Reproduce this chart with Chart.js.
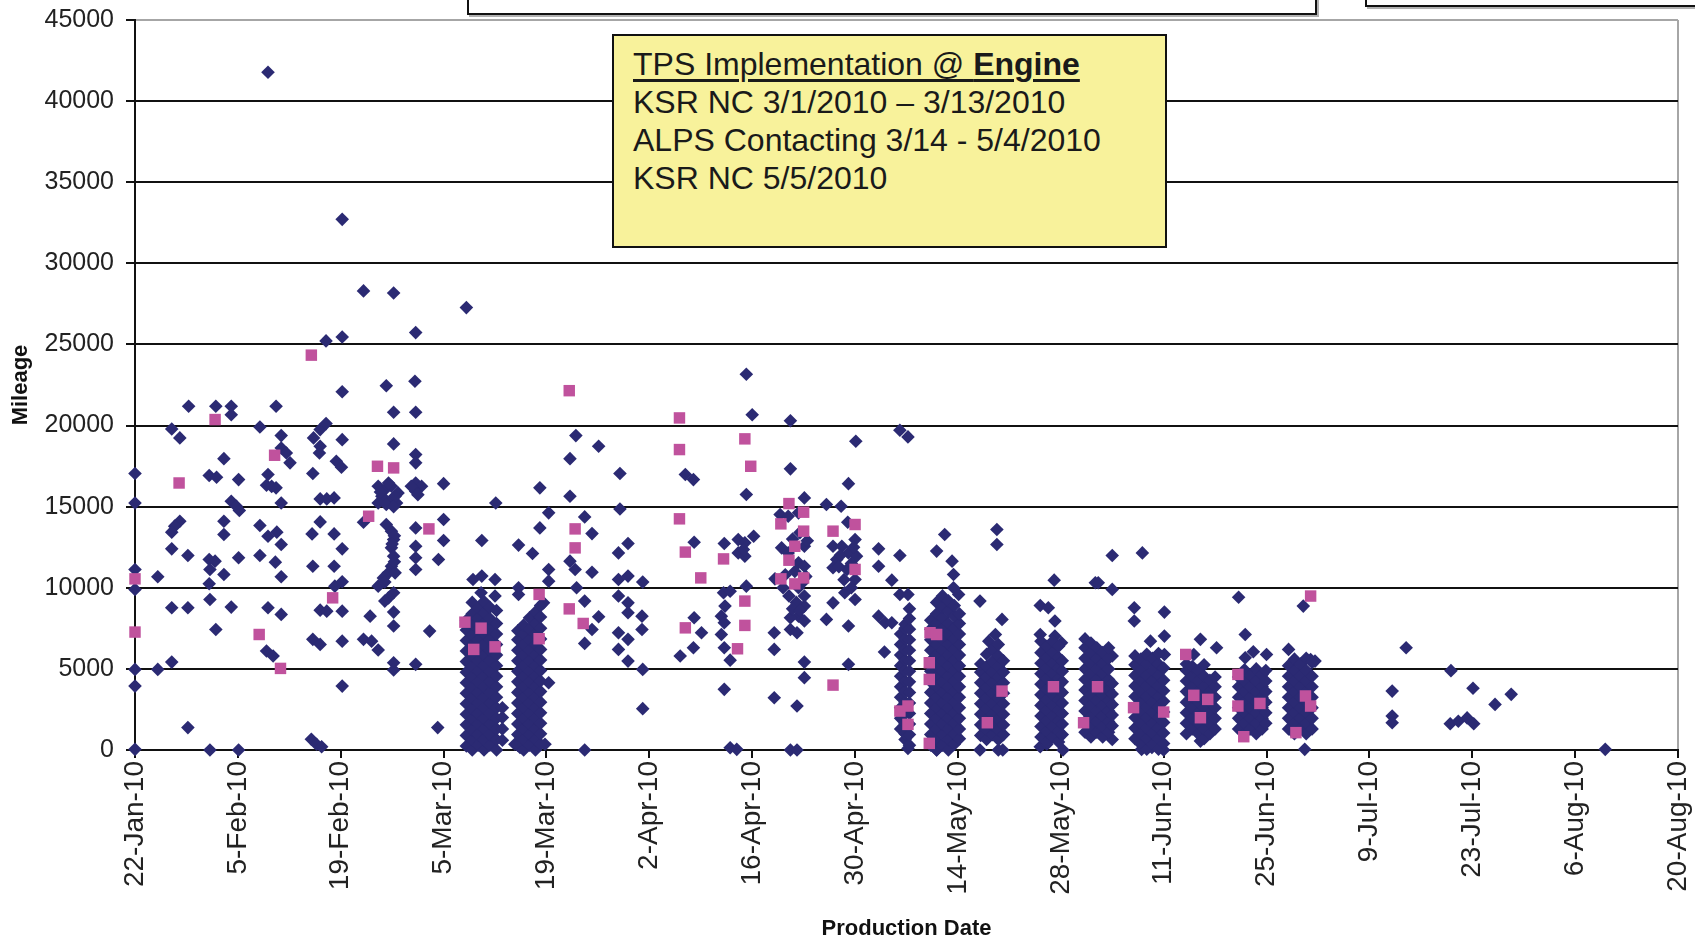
<!DOCTYPE html>
<html>
<head>
<meta charset="utf-8">
<title>Mileage by Production Date</title>
<script src="https://cdn.jsdelivr.net/npm/chart.js@4.4.1/dist/chart.umd.min.js"></script>
<style>
  body { margin: 0; background: #fff; }
  #wrap { position: relative; width: 1695px; height: 937px; overflow: hidden; font-family: "Liberation Sans", Arial, sans-serif; }
  #chart { position: absolute; left: 0; top: 0; }
  .topbox { position: absolute; background: #fff; border: 2px solid #111; box-shadow: 2px 2px 0 #b0b0b0; box-sizing: border-box; }
  .note {
    position: absolute; left: 612px; top: 34px; width: 555px; height: 214px; box-sizing: border-box;
    background: #f8f29b; border: 2px solid #111; padding: 9px 0 0 19px;
    font-size: 32px; line-height: 38px; color: #1a1a1a; white-space: nowrap;
  }
  .note .head { text-decoration: underline; text-decoration-thickness: 3px; text-underline-offset: 4px; }
</style>
</head>
<body>
<div id="wrap">
  <canvas id="chart" width="1695" height="937"></canvas>
  <div class="topbox" style="left:467px; top:-24px; width:850px; height:39px;"></div>
  <div class="topbox" style="left:1365px; top:-24px; width:400px; height:31px;"></div>
  <div class="note">
    <div class="head">TPS Implementation @ <b>Engine</b></div>
    <div>KSR NC 3/1/2010 – 3/13/2010</div>
    <div>ALPS Contacting 3/14 - 5/4/2010</div>
    <div>KSR NC 5/5/2010</div>
  </div>
</div>
<script>
// x values are days after 22-Jan-10, y values are mileage

const tickLabels = ['22-Jan-10', '5-Feb-10', '19-Feb-10', '5-Mar-10', '19-Mar-10', '2-Apr-10', '16-Apr-10', '30-Apr-10',
  '14-May-10', '28-May-10', '11-Jun-10', '25-Jun-10', '9-Jul-10', '23-Jul-10', '6-Aug-10', '20-Aug-10'];

// single navy diamonds
const navyPoints = [
  [18.1, 41780], [28.2, 32710], [31.1, 28300], [35.2, 28170], [45.1, 27270], [38.2, 25730], [26.0, 25220], [28.2, 25460],
  [34.2, 22450], [38.1, 22730], [28.2, 22080],
  [35.2, 20820], [38.2, 20820], [7.3, 21190], [11.0, 21190], [13.1, 21190], [13.1, 20670], [19.2, 21190],
  [5.0, 19790], [6.1, 19240], [17.0, 19910], [19.9, 19380], [24.3, 19240], [25.2, 19750], [26.0, 20120], [28.2, 19130],
  [25.2, 18720], [25.1, 18310], [12.1, 17960], [19.9, 18620], [20.6, 18310], [21.1, 17700], [27.4, 17800], [28.1, 17430],
  [35.2, 18870], [38.2, 18210], [38.2, 17700], [0, 17040], [10.1, 16920], [11.1, 16810], [14.1, 16670],
  [18.1, 16980], [17.9, 16320], [19.2, 16160], [18.6, 16250], [24.2, 17040],
  [33.1, 16260], [34.0, 16050], [34.9, 16260], [35.8, 15850], [33.6, 15640], [34.9, 15440], [35.6, 15230], [33.1, 15230],
  [34.2, 15130], [35.4, 15640], [34.5, 16460], [33.4, 15900], [35.2, 15000],
  [38.2, 16460], [39.0, 16260], [38.2, 15950], [38.5, 15740], [37.6, 16260],
  [42.0, 16420], [0, 15230], [13.1, 15330], [13.8, 15030], [14.2, 14760], [19.9, 15230], [25.2, 15480], [26.1, 15480], [27.1, 15540],
  [42.0, 14210], [6.1, 14100], [5.4, 13800], [5.0, 13430], [12.1, 14100], [12.1, 13280], [17.0, 13840], [18.1, 13180], [19.3, 13430], [19.9, 12670],
  [25.2, 14060], [24.1, 13320], [27.1, 13320], [28.2, 12400], [31.1, 14040],
  [34.2, 13900], [34.9, 13490], [35.2, 12970], [34.9, 12460], [35.2, 11950], [34.9, 11330], [34.5, 10920], [33.8, 10610],
  [33.1, 10100], [35.4, 10920], [35.2, 9690], [34.5, 9380], [34.0, 9180], [35.3, 13200], [35.0, 12700], [35.3, 11600], [34.0, 10350],
  [38.2, 13690], [38.2, 12560], [38.2, 11850], [38.2, 11130],
  [42.0, 12910], [41.3, 11740], [5.0, 12400], [7.2, 11990], [10.1, 11740], [10.9, 11640], [10.2, 11130], [12.1, 10820],
  [14.1, 11850], [17.0, 11990], [19.1, 11580], [19.9, 10680], [24.2, 11330], [27.1, 11330], [0, 11130], [3.1, 10680],
  [10.1, 10250], [0, 9900], [27.2, 10100], [28.2, 10370], [10.2, 9280],
  [5.0, 8770], [7.2, 8770], [13.1, 8810], [18.1, 8770], [19.9, 8360], [25.2, 8620], [26.1, 8560], [28.2, 8560], [32.0, 8250],
  [35.2, 8500], [35.2, 7640], [11.0, 7430], [40.1, 7330], [24.2, 6820], [25.2, 6510], [28.2, 6710], [31.1, 6820], [32.2, 6710], [33.1, 6160],
  [17.9, 6100], [18.8, 5790], [5.0, 5420], [3.1, 4970], [0, 4970], [35.2, 5380], [35.2, 4930], [38.2, 5280],
  [0, 3940], [28.2, 3940], [7.2, 1380], [41.2, 1380], [0, 40], [10.2, 0], [14.1, 0], [24.0, 660], [24.7, 350], [25.4, 200],
  [46.0, 10510], [47.2, 10720], [49.0, 10510], [47.1, 9690], [49.0, 9490],
  [83.2, 23160], [84.0, 20670], [60.0, 19380], [63.1, 18720], [59.2, 17960], [66.0, 17040], [74.9, 16980], [76.0, 16670],
  [55.1, 16160], [59.2, 15640], [83.2, 15750], [49.1, 15230], [66.0, 14860], [56.3, 14620], [61.2, 14370], [62.2, 13340], [55.1, 13690],
  [47.2, 12910], [52.2, 12630], [54.1, 12110], [65.8, 12150], [67.1, 12730], [76.1, 12810], [80.2, 12730],
  [82.1, 12970], [83.0, 12770], [84.2, 13180], [82.1, 12150], [83.0, 11950], [82.8, 12360],
  [59.2, 11640], [59.9, 11130], [60.1, 10000], [61.2, 9180], [63.1, 8210], [62.2, 7430], [61.2, 6570], [62.2, 10960],
  [56.3, 11130], [56.3, 10410], [55.6, 9070], [56.3, 4150], [52.2, 10000], [52.2, 9590],
  [65.8, 10510], [67.1, 10720], [69.1, 10350], [65.8, 9490], [67.1, 9070], [67.1, 8460], [69.0, 8250], [69.0, 7430],
  [65.8, 7230], [67.1, 6820], [65.8, 6200], [67.1, 5480], [69.1, 4970], [69.1, 2550],
  [76.1, 8150], [77.1, 7230], [76.0, 6300], [74.2, 5790],
  [80.1, 9690], [81.0, 9790], [80.3, 8870], [79.8, 8250], [80.2, 7840], [79.8, 7120], [80.2, 6300], [81.0, 5540], [80.2, 3740],
  [83.2, 10100], [61.2, 0], [81.0, 140], [81.9, 40], [55.8, 350], [54.0, 350], [51.7, 350], [52.4, 150],
  [89.2, 20300], [89.2, 17330], [98.1, 19030], [97.1, 16420], [91.1, 15540], [94.1, 15130], [96.1, 15030], [104.1, 19710], [105.2, 19300], [97.0, 14040],
  [87.8, 14510], [88.9, 14410], [90.3, 14620],
  [88.0, 12460], [88.9, 12150], [91.1, 12560], [90.3, 11540], [91.1, 11330], [87.1, 10550], [88.2, 10000], [90.3, 10000],
  [91.1, 9490], [91.1, 8870], [90.3, 8250], [89.2, 8150], [89.2, 7430], [90.1, 7230], [91.1, 7950], [87.0, 7230], [87.0, 6200],
  [89.5, 13000], [90.5, 13400], [91.5, 12900], [89.8, 11000], [88.5, 10800], [90.8, 10300], [89.0, 9500], [90.0, 9100],
  [91.3, 10700], [89.5, 8700], [90.5, 8600],
  [91.1, 5420], [91.1, 4460], [87.0, 3220], [90.1, 2710], [89.2, 0], [90.1, 0],
  [95.0, 12560], [96.2, 12560], [97.1, 12150], [98.0, 12970], [98.2, 11950], [95.5, 11740], [95.0, 11230], [96.9, 11130],
  [98.0, 10510], [96.6, 9690], [98.0, 9280], [95.0, 9070], [97.1, 7640], [94.1, 8050], [97.1, 5280],
  [96.0, 12000], [97.5, 11500], [95.8, 11300], [97.8, 12500], [96.5, 10500], [97.5, 10000],
  [101.2, 12400], [101.2, 11330], [103.0, 10470], [104.1, 11990], [104.1, 9590], [105.2, 9590], [101.2, 8250], [102.1, 7840], [103.0, 7840], [102.0, 6040],
  [110.2, 13280], [109.1, 12260], [111.2, 11640], [111.4, 10820], [111.4, 10000], [112.1, 9590],
  [115.0, 9180], [118.0, 8050], [117.1, 7120], [116.2, 6710], [117.3, 13590], [117.3, 12670],
  [125.1, 10470], [130.7, 10310], [123.2, 8910], [124.3, 8770], [125.2, 7950], [123.2, 7120], [125.2, 7020], [126.1, 6610],
  [105.2, 100], [109.1, 0], [111.2, 410], [115.0, 0], [117.5, 0], [118.1, 0], [123.2, 200], [124.1, 350], [126.3, 0],
  [133.0, 11990], [137.1, 12150], [131.1, 10310], [133.0, 9900], [136.0, 8770], [136.0, 7950], [140.1, 8500],
  [138.2, 6710], [140.1, 7020], [140.1, 5890], [133.0, 5790], [145.0, 6820], [147.2, 6300], [144.1, 5890],
  [150.2, 9420], [151.1, 7120], [152.2, 6060], [154.0, 5890], [151.1, 5690], [157.0, 6200], [159.0, 8870], [160.0, 5580], [160.6, 5480],
  [145.0, 550], [133.0, 650], [173.0, 6300], [171.1, 3630], [171.1, 2090], [171.1, 1680],
  [137.0, 40], [138.4, 150], [140.0, 0], [159.2, 40],
  [179.1, 4890], [182.1, 3810], [185.1, 2810], [187.3, 3430], [179.0, 1620], [180.1, 1770], [181.3, 1980], [182.2, 1620], [200.1, 40]
];

// dense navy columns: [day, mileages stacked at that day]
const navyColumns = [
  [45.1, [250, 900, 1550, 2200, 2850, 3500, 4150, 4800, 5450, 6100, 6750, 7400, 8000]],
  [45.9, [0, 600, 1250, 1900, 2550, 3200, 3850, 4500, 5150, 5800, 6450, 7100, 7750, 8400, 9100]],
  [46.7, [300, 950, 1600, 2250, 2900, 3550, 4200, 4850, 5500, 6150, 6800, 7450, 8100, 8750]],
  [47.5, [0, 650, 1300, 1950, 2600, 3250, 3900, 4550, 5200, 5850, 6500, 7150, 7800, 8450, 9150]],
  [48.3, [300, 950, 1600, 2250, 2900, 3550, 4200, 4850, 5500, 6150, 6800, 7450, 8100, 8800]],
  [49.2, [0, 650, 1300, 1950, 2600, 3250, 3900, 4550, 5200, 5850, 6500, 7150, 7800, 8600]],
  [50.0, [600, 1300, 2000, 2600]],
  [52.1, [300, 950, 1600, 2250, 2900, 3550, 4200, 4850, 5500, 6150, 6800, 7350]],
  [52.9, [0, 650, 1300, 1950, 2600, 3250, 3900, 4550, 5200, 5850, 6500, 7150, 7700]],
  [53.7, [300, 950, 1600, 2250, 2900, 3550, 4200, 4850, 5500, 6150, 6800, 7450, 8150]],
  [54.5, [0, 650, 1300, 1950, 2600, 3250, 3900, 4550, 5200, 5850, 6500, 7150, 7800, 8500]],
  [55.2, [350, 1000, 1650, 2300, 2950, 3600, 4250, 4900, 5550, 6200, 6850, 7500, 8200, 8900]],
  [104.2, [1300, 1950, 2600, 3250, 3900, 4550, 5200, 5850, 6500, 7150]],
  [104.8, [650, 1000, 1650, 2300, 2950, 3600, 4250, 4900, 5550, 6200, 6850, 7500, 7750]],
  [105.4, [300, 950, 1600, 2250, 2900, 3550, 4200, 4850, 5500, 6150, 6800, 7450, 8100, 8700]],
  [108.3, [300, 950, 1600, 2250, 2900, 3550, 4200, 4850, 5500, 6150, 6800, 7450, 8000]],
  [109.1, [0, 650, 1300, 1950, 2600, 3250, 3900, 4550, 5200, 5850, 6500, 7150, 7800, 8400, 9100]],
  [109.9, [300, 950, 1600, 2250, 2900, 3550, 4200, 4850, 5500, 6150, 6800, 7450, 8150, 8800, 9500]],
  [110.7, [0, 650, 1300, 1950, 2600, 3250, 3900, 4550, 5200, 5850, 6500, 7150, 7800, 8550, 9200]],
  [111.5, [350, 1000, 1650, 2300, 2950, 3600, 4250, 4900, 5550, 6200, 6850, 7500, 8250, 8900]],
  [112.2, [700, 1300, 1950, 2600, 3250, 3900, 4550, 5200, 5850, 6500, 7150, 7800, 8400]],
  [115.1, [900, 1550, 2200, 2850, 3500, 4150, 4800, 5300]],
  [115.9, [650, 1250, 1900, 2550, 3200, 3850, 4500, 5150, 5900]],
  [116.7, [950, 1550, 2200, 2850, 3500, 4150, 4800, 5450, 6200]],
  [117.5, [650, 1250, 1900, 2550, 3200, 3850, 4500, 5150, 5800, 6500]],
  [118.2, [950, 1550, 2200, 2850, 3500, 4150, 4800, 5500]],
  [123.3, [800, 1450, 2100, 2750, 3400, 4050, 4700, 5350, 6000, 6700]],
  [124.1, [500, 1150, 1800, 2450, 3100, 3750, 4400, 5050, 5700, 6400]],
  [124.9, [800, 1450, 2100, 2750, 3400, 4050, 4700, 5350, 6000, 6700]],
  [125.7, [500, 1150, 1800, 2450, 3100, 3750, 4400, 5050, 5700, 6400]],
  [126.2, [950, 1600, 2250, 2900, 3550, 4200, 4850, 5500]],
  [129.3, [1100, 1750, 2400, 3050, 3700, 4350, 5000, 5650, 6300, 6850]],
  [130.1, [800, 1450, 2100, 2750, 3400, 4050, 4700, 5350, 6000, 6600]],
  [130.9, [1100, 1750, 2400, 3050, 3700, 4350, 5000, 5650, 6300]],
  [131.7, [800, 1450, 2100, 2750, 3400, 4050, 4700, 5350, 6000]],
  [132.5, [1100, 1750, 2400, 3050, 3700, 4350, 5000, 5650, 6300]],
  [133.0, [1500, 2150, 2800, 3450, 4100]],
  [136.1, [700, 1350, 2000, 2650, 3300, 3950, 4600, 5250, 5800]],
  [136.9, [350, 1000, 1650, 2300, 2950, 3600, 4250, 4900, 5600]],
  [137.7, [50, 700, 1350, 2000, 2650, 3300, 3950, 4600, 5300, 5900]],
  [138.5, [350, 1000, 1650, 2300, 2950, 3600, 4250, 4900, 5650]],
  [139.3, [50, 700, 1350, 2000, 2650, 3300, 3950, 4600, 5300, 5950]],
  [140.0, [400, 1050, 1700, 2350, 3000, 3650, 4300, 5050]],
  [143.1, [1000, 1650, 2300, 2950, 3600, 4250, 4900, 5300]],
  [143.9, [1300, 1950, 2600, 3250, 3900, 4550, 5150]],
  [144.7, [1000, 1650, 2300, 2950, 3600, 4250, 4900]],
  [145.5, [700, 1300, 1950, 2600, 3250, 3900, 4550, 5250]],
  [146.3, [1000, 1650, 2300, 2950, 3600, 4300]],
  [147.0, [1300, 1950, 2600, 3250, 3900, 4500]],
  [150.2, [1300, 1950, 2600, 3250, 3900, 4500]],
  [151.0, [1000, 1650, 2300, 2950, 3600, 4250, 4950]],
  [151.8, [1300, 1950, 2600, 3250, 3900, 4600]],
  [152.6, [1000, 1650, 2300, 2950, 3600, 4250, 5000]],
  [153.4, [1300, 1950, 2600, 3250, 3900, 4650]],
  [153.9, [1650, 2300, 2950, 3600, 4250, 4900]],
  [157.0, [1300, 1950, 2600, 3250, 3900, 4550, 5200]],
  [157.8, [1000, 1650, 2300, 2950, 3600, 4250, 4900, 5600]],
  [158.6, [1300, 1950, 2600, 3250, 3900, 4550, 5300]],
  [159.4, [1000, 1650, 2300, 2950, 3600, 4250, 4900, 5650]],
  [160.2, [1300, 1950, 2600, 3250, 3900, 4550, 5400]]
];

// pink squares
const pinkPoints = [
  [24.0, 24340], [10.9, 20370], [19.0, 18170], [6.0, 16460], [33.0, 17490], [35.2, 17390], [31.8, 14410], [40.0, 13630],
  [0, 10550], [26.9, 9380], [0, 7270], [16.9, 7120], [19.8, 5030],
  [59.1, 22150], [74.1, 20470], [74.1, 18520], [83.0, 19180], [83.8, 17490], [74.1, 14250], [59.9, 13630], [59.9, 12460],
  [74.9, 12200], [80.1, 11780], [77.0, 10610], [55.0, 9590], [83.0, 9180], [59.1, 8700], [61.0, 7800], [74.9, 7530],
  [83.0, 7680], [82.0, 6240], [44.9, 7880], [47.1, 7510], [46.1, 6200], [49.0, 6360], [55.0, 6860],
  [89.0, 15190], [91.0, 14660], [87.9, 13940], [91.0, 13490], [89.8, 12560], [89.0, 11700], [87.9, 10550], [89.8, 10240],
  [91.0, 10610], [95.0, 13490], [98.0, 13900], [98.0, 11130], [95.0, 4000], [108.2, 7230], [109.1, 7120], [108.1, 5380],
  [108.1, 4350], [108.1, 410], [104.1, 2400], [105.2, 2710], [105.2, 1580], [118.0, 3630], [116.0, 1680], [125.0, 3900], [129.1, 1680],
  [131.0, 3900], [135.9, 2610], [140.0, 2340], [143.0, 5890], [144.1, 3370], [146.0, 3120], [145.0, 1990], [150.1, 4660],
  [150.1, 2710], [153.1, 2870], [150.9, 820], [160.0, 9490], [159.3, 3330], [160.0, 2710], [158.0, 1070]
];

const toXY = ([x, y]) => ({ x, y });
const navyData = navyPoints.map(toXY)
  .concat(navyColumns.flatMap(([day, list]) => list.map(m => ({ x: day, y: m }))));
const pinkData = pinkPoints.map(toXY);

const BLACK = '#111';
const EDGE = '#a6a6a6';

new Chart(document.getElementById('chart'), {
  type: 'scatter',
  data: {
    datasets: [
      { label: 'ALPS', data: pinkData, pointStyle: 'rect', pointRadius: 8.1, backgroundColor: '#c0529d', borderWidth: 0, clip: false },
      { label: 'KSR', data: navyData, pointStyle: 'rectRot', pointRadius: 6.8, backgroundColor: '#2b2a73', borderWidth: 0, clip: false }
    ]
  },
  options: {
    responsive: false,
    animation: false,
    devicePixelRatio: 1,
    layout: { padding: { left: 0, right: 17, top: 20, bottom: 0 } },
    plugins: { legend: { display: false }, tooltip: { enabled: false } },
    scales: {
      x: {
        type: 'linear',
        min: 0,
        max: 210,
        afterFit: s => { s.height = 187; s.paddingLeft = 0; s.paddingRight = 0; },
        ticks: {
          stepSize: 14,
          autoSkip: false,
          minRotation: 90,
          maxRotation: 90,
          padding: 3,
          color: '#222',
          font: { family: 'Liberation Sans', size: 28 },
          callback: v => tickLabels[Math.round(v / 14)]
        },
        grid: {
          drawOnChartArea: true,
          color: c => (c.tick && c.tick.value === 210 ? EDGE : 'rgba(0,0,0,0)'),
          tickColor: BLACK,
          tickLength: 8,
          lineWidth: 2
        },
        border: { color: BLACK, width: 2 },
        title: {
          display: true,
          text: 'Production Date',
          color: '#111',
          padding: { top: 0, bottom: 0 },
          font: { family: 'Liberation Sans', size: 22, weight: 'bold', lineHeight: 0.75 }
        }
      },
      y: {
        min: 0,
        max: 45000,
        afterFit: s => { s.width = 135; s.paddingTop = 0; s.paddingBottom = 0; },
        ticks: {
          stepSize: 5000,
          padding: 12,
          color: '#222',
          font: { family: 'Liberation Sans', size: 25 },
          callback: v => String(v)
        },
        grid: {
          color: c => (c.tick && c.tick.value === 45000 ? EDGE : BLACK),
          tickColor: BLACK,
          tickLength: 9,
          lineWidth: 2
        },
        border: { color: BLACK, width: 2 },
        title: {
          display: true,
          text: 'Mileage',
          color: '#111',
          padding: { top: 8, bottom: 0 },
          font: { family: 'Liberation Sans', size: 22, weight: 'bold' }
        }
      }
    }
  }
});
</script>
</body>
</html>
